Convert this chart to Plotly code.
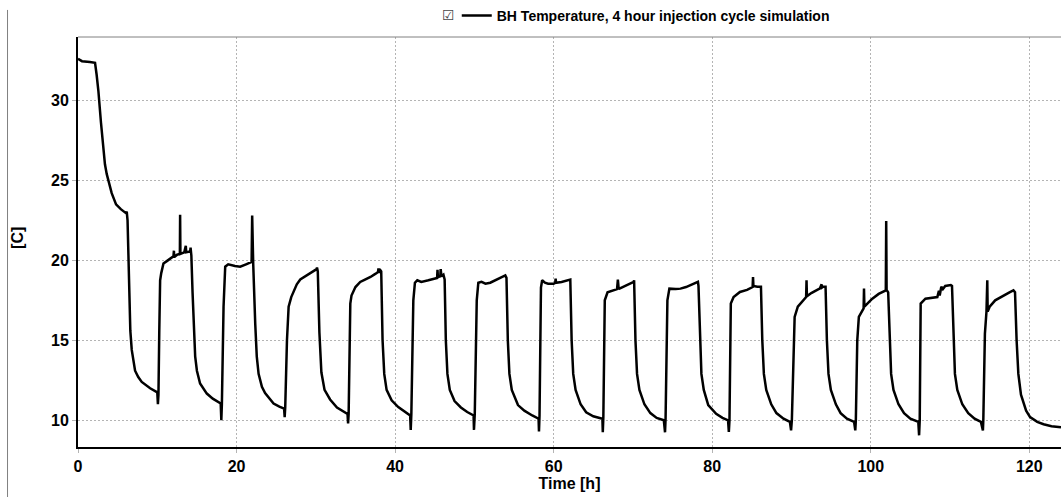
import plotly.graph_objects as go

# (time [h], borehole temperature [C]), one list per phase
initial_cooldown = [
    (0, 32.6), (0.5, 32.45), (1.5, 32.4), (2.15, 32.35), (2.35, 31.6), (2.57, 30.6), (2.9, 28.6), (3.2, 26.9),
    (3.4, 26.0), (3.62, 25.4), (3.9, 24.8), (4.25, 24.2), (4.8, 23.5), (5.4, 23.2), (6.05, 22.95), (6.15, 23.05),
    (6.25, 22.5), (6.35, 20.0), (6.44, 17.7), (6.6, 15.6), (6.78, 14.4), (7.0, 13.6), (7.2, 13.1), (7.6, 12.7),
    (8.04, 12.4), (9.1, 12.0), (10.0, 11.75), (10.08, 11.0), (10.15, 11.6),
]
cycle_10h = [
    (10.25, 15.5), (10.36, 18.75), (10.5, 19.2), (10.78, 19.8), (11.2, 19.95), (11.6, 20.1), (12.04, 20.25),
    (12.1, 20.6), (12.15, 20.2), (12.5, 20.35), (12.85, 20.4), (12.88, 22.85), (12.92, 20.4), (13.4, 20.5),
    (13.6, 20.9), (13.65, 20.5), (14.15, 20.55), (14.2, 20.8), (14.3, 20.3), (14.45, 18.0), (14.57, 16.45),
    (14.78, 14.0), (15.0, 13.1), (15.4, 12.3), (16.25, 11.67), (17.0, 11.35), (18.0, 11.05), (18.08, 10.0),
    (18.15, 11.0),
]
cycle_18h = [
    (18.36, 17.1), (18.57, 19.6), (18.95, 19.75), (19.8, 19.65), (20.46, 19.6), (21.2, 19.75), (21.9, 19.9),
    (21.97, 22.8), (22.02, 19.9), (22.1, 19.8), (22.36, 16.0), (22.55, 14.0), (22.78, 12.9), (23.2, 12.1),
    (23.6, 11.7), (24.67, 11.05), (25.4, 10.85), (26.0, 10.73), (26.07, 10.2), (26.14, 10.8),
]
cycle_26h = [
    (26.36, 15.0), (26.57, 17.1), (26.9, 17.7), (27.2, 18.1), (27.6, 18.5), (28.04, 18.8), (28.7, 19.0),
    (29.3, 19.17), (30.1, 19.45), (30.15, 19.55), (30.25, 19.3), (30.45, 15.5), (30.7, 13.0), (31.1, 11.9),
    (31.8, 11.3), (32.67, 10.8), (33.3, 10.6), (34.0, 10.4), (34.07, 9.8), (34.14, 10.4),
]
cycle_34h = [
    (34.35, 17.3), (34.5, 17.8), (35.0, 18.33), (35.6, 18.65), (36.2, 18.8), (36.9, 18.96), (37.5, 19.15),
    (37.85, 19.27), (37.9, 19.5), (37.95, 19.2), (38.05, 19.45), (38.25, 19.3), (38.42, 15.0), (38.63, 12.9),
    (38.93, 11.9), (39.56, 11.25), (40.4, 10.83), (41.24, 10.52), (41.9, 10.3), (41.97, 9.4), (42.05, 10.4),
]
cycle_42h = [
    (42.3, 17.5), (42.5, 18.6), (42.8, 18.75), (43.3, 18.65), (44.2, 18.75), (44.8, 18.85), (45.3, 18.9),
    (45.35, 19.4), (45.4, 18.95), (45.7, 19.0), (45.75, 19.45), (45.85, 19.0), (46.1, 19.1), (46.25, 18.8),
    (46.4, 15.0), (46.6, 12.9), (46.9, 11.9), (47.5, 11.2), (48.3, 10.8), (49.1, 10.52), (49.9, 10.3),
    (49.95, 9.4), (50.05, 10.4),
]
cycle_50h = [
    (50.3, 17.5), (50.5, 18.6), (50.9, 18.65), (51.4, 18.54), (52.0, 18.6), (52.6, 18.75), (53.3, 18.9),
    (53.9, 19.06), (54.05, 18.9), (54.22, 15.0), (54.42, 12.9), (54.72, 11.9), (55.5, 10.95), (56.3, 10.6),
    (57.3, 10.3), (58.1, 10.1), (58.15, 9.3), (58.22, 10.3),
]
cycle_58h = [
    (58.4, 18.3), (58.55, 18.75), (58.9, 18.6), (59.3, 18.54), (60.0, 18.54), (60.2, 18.6), (60.25, 18.85),
    (60.3, 18.6), (61.0, 18.65), (62.0, 18.75), (62.1, 18.8), (62.27, 15.0), (62.47, 12.9), (62.77, 11.9),
    (63.4, 11.0), (64.1, 10.5), (65.0, 10.25), (66.15, 10.1), (66.2, 9.25), (66.27, 10.2),
]
cycle_66h = [
    (66.45, 17.5), (66.8, 18.0), (67.5, 18.1), (68.0, 18.2), (68.1, 18.8), (68.2, 18.25), (68.3, 18.23),
    (69.3, 18.45), (70.1, 18.65), (70.15, 18.75), (70.32, 15.0), (70.52, 12.9), (70.82, 11.9), (71.45, 11.0),
    (72.2, 10.45), (73.0, 10.15), (73.9, 10.0), (74.05, 9.25), (74.12, 10.1),
]
cycle_74h = [
    (74.35, 17.5), (74.6, 18.23), (75.4, 18.2), (76.0, 18.23), (76.7, 18.33), (77.5, 18.5), (78.2, 18.65),
    (78.27, 18.4), (78.44, 15.0), (78.64, 12.9), (78.94, 11.9), (79.5, 10.95), (80.5, 10.4), (81.3, 10.15),
    (82.0, 10.0), (82.1, 9.27), (82.18, 10.0),
]
cycle_82h = [
    (82.35, 17.3), (82.7, 17.7), (83.5, 18.02), (84.4, 18.15), (85.1, 18.33), (85.15, 18.96), (85.2, 18.4),
    (85.7, 18.35), (86.15, 18.35), (86.32, 15.0), (86.52, 12.9), (86.82, 11.9), (87.45, 11.0), (88.1, 10.45),
    (89.0, 10.1), (89.8, 9.9), (89.95, 9.37), (90.05, 10.0),
]
cycle_90h = [
    (90.4, 16.46), (90.8, 17.1), (91.3, 17.4), (91.85, 17.7), (91.9, 18.75), (91.95, 17.75), (92.5, 17.95),
    (93.1, 18.12), (93.6, 18.25), (93.8, 18.5), (93.85, 18.3), (94.0, 18.35), (94.3, 18.35), (94.47, 15.0),
    (94.67, 12.9), (94.97, 11.9), (95.6, 11.0), (96.2, 10.45), (97.0, 10.1), (97.9, 9.9), (98.05, 9.37),
    (98.12, 10.0),
]
cycle_98h = [
    (98.3, 15.0), (98.5, 16.46), (99.1, 17.0), (99.15, 18.23), (99.2, 17.1), (99.7, 17.35), (100.2, 17.6),
    (101.0, 17.9), (101.9, 18.12), (101.95, 22.46), (102.0, 18.15), (102.2, 18.0), (102.37, 15.0),
    (102.57, 12.9), (102.87, 11.9), (103.5, 11.0), (104.2, 10.45), (105.0, 10.1), (106.0, 9.9), (106.1, 9.06),
    (106.18, 10.0),
]
cycle_106h = [
    (106.3, 17.3), (106.9, 17.6), (107.6, 17.65), (108.4, 17.7), (108.6, 18.1), (108.7, 17.8), (108.9, 18.35),
    (109.1, 18.2), (109.4, 18.4), (110.1, 18.45), (110.25, 18.4), (110.42, 15.0), (110.62, 12.9), (110.92, 11.9),
    (111.55, 11.0), (112.3, 10.45), (113.1, 10.1), (113.9, 9.9), (114.15, 9.37), (114.2, 10.0),
]
cycle_114h = [
    (114.4, 15.4), (114.6, 16.8), (114.7, 18.75), (114.75, 16.8), (115.0, 17.1), (115.7, 17.5), (116.7, 17.8),
    (117.5, 18.0), (118.0, 18.12), (118.2, 18.0), (118.4, 15.0), (118.62, 12.9), (118.95, 11.6), (119.6, 10.6),
    (120.1, 10.2), (121.0, 9.9), (121.8, 9.75), (122.8, 9.63), (124.0, 9.56),
]

phases = [initial_cooldown, cycle_10h, cycle_18h, cycle_26h, cycle_34h, cycle_42h, cycle_50h, cycle_58h,
          cycle_66h, cycle_74h, cycle_82h, cycle_90h, cycle_98h, cycle_106h, cycle_114h]
time_h = [p[0] for ph in phases for p in ph]
temp_c = [p[1] for ph in phases for p in ph]

x_ticks = [0, 20, 40, 60, 80, 100, 120]
y_ticks = [10, 15, 20, 25, 30]
series_name = "BH Temperature, 4 hour injection cycle simulation"

FONT = "Liberation Sans, Arial, sans-serif"

fig = go.Figure()
fig.add_trace(go.Scatter(
    x=time_h, y=temp_c, mode="lines", name="<b>" + series_name + "</b>",
    line=dict(color="#000000", width=2.5),
))

fig.update_layout(
    width=1061, height=497,
    margin=dict(l=78, r=0, t=37, b=50),
    paper_bgcolor="white", plot_bgcolor="white",
    font=dict(family=FONT, color="#000000"),
    showlegend=True,
    legend=dict(
        orientation="h", xref="container", yref="container",
        x=0.4305, y=1.0, xanchor="left", yanchor="top",
        font=dict(size=14, family=FONT, color="#000000"),
        bgcolor="rgba(0,0,0,0)", borderwidth=0,
    ),
    xaxis=dict(
        range=[0, 124], tickvals=x_ticks, ticktext=[f"<b>{v}</b>" for v in x_ticks],
        showgrid=True, gridcolor="#b4b4b4", griddash="2px,2px", gridwidth=1,
        showline=True, linecolor="#000000", linewidth=2,
        ticks="outside", ticklen=4, tickcolor="#b4b4b4",
        tickfont=dict(size=16, family=FONT), zeroline=False,
        title=dict(text="<b>Time [h]</b>", font=dict(size=16, family=FONT), standoff=2),
    ),
    yaxis=dict(
        range=[8.33, 33.96], tickvals=y_ticks, ticktext=[f"<b>{v}</b>" for v in y_ticks],
        showgrid=True, gridcolor="#b4b4b4", griddash="2px,2px", gridwidth=1,
        showline=True, linecolor="#000000", linewidth=2,
        ticks="outside", ticklen=4, tickcolor="#b4b4b4",
        tickfont=dict(size=16, family=FONT), zeroline=False,
    ),
    shapes=[
        dict(type="line", xref="paper", yref="paper", x0=0, x1=1, y0=1, y1=1,
             line=dict(color="#808080", width=1)),
        dict(type="line", xref="paper", yref="paper", x0=-0.0717, x1=-0.0717, y0=1.066, y1=-0.13,
             line=dict(color="#808080", width=1)),
    ],
    annotations=[
        dict(text="<b>[C]</b>", xref="paper", yref="paper", x=-0.061, y=0.51,
             textangle=-90, showarrow=False, font=dict(size=16, family=FONT),
             xanchor="center", yanchor="middle"),
        dict(text="☑", xref="paper", yref="paper", x=0.3764, y=1.0537,
             showarrow=False, font=dict(size=14, family="DejaVu Sans", color="#444444"),
             xanchor="center", yanchor="middle"),
    ],
)

fig.write_html("out.html")
